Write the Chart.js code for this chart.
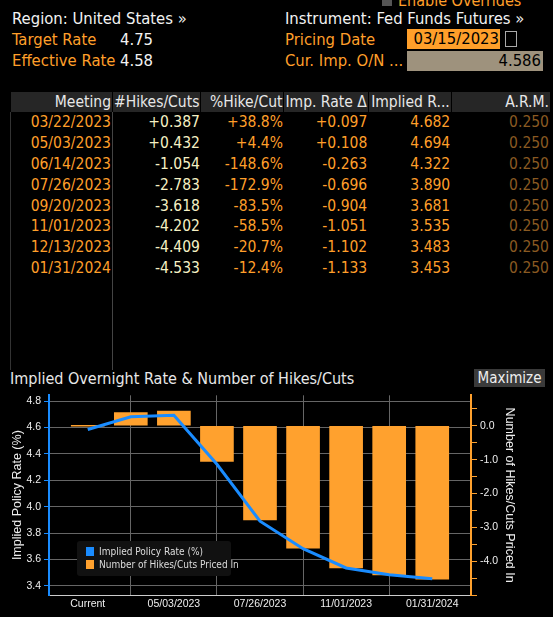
<!DOCTYPE html>
<html>
<head>
<meta charset="utf-8">
<script src="https://cdn.jsdelivr.net/npm/chart.js@4"></script>
<style>
  body { margin: 0; background: #000; width: 553px; height: 617px; overflow: hidden; position: relative;
         font-family: "DejaVu Sans Condensed", "Liberation Sans", sans-serif; color: #fff; }
  .abs { position: absolute; white-space: nowrap; }
  .w { color: #f2f2f2; }
  .o { color: #ff9f2a; }
  table { position: absolute; left: 10px; top: 92px; width: 540px; border-collapse: collapse; font-size: 15.5px;
          border-left: 1px solid #333; }
  th { background: #262626; color: #e8e8e8; font-weight: normal; text-align: right; height: 20px; padding: 0 1px;
       border-left: 1px solid #000; white-space: nowrap; overflow: hidden; }
  td { text-align: right; height: 20.8px; padding: 0 1px; color: #ff9f2a; }
  td.h { color: #f6f1c4; }
  td.a { color: #8a5a22; }
  td.m { border-right: 1px solid #444; }
</style>
</head>
<body>
<div class="abs" style="left:382px;top:-9px;font-size:16px;color:#ff9f2a"><span style="display:inline-block;width:10px;height:10px;background:#555;margin-right:6px"></span>Enable Overrides</div>
<div class="abs w" style="left:12px;top:9px;font-size:16.5px">Region: United States &raquo;</div>
<div class="abs w" style="left:285px;top:9px;font-size:16.5px">Instrument: Fed Funds Futures &raquo;</div>
<div class="abs o" style="left:12px;top:30px;font-size:16.5px">Target Rate</div>
<div class="abs w" style="left:120px;top:30px;font-size:16.5px">4.75</div>
<div class="abs o" style="left:12px;top:51px;font-size:16.5px">Effective Rate</div>
<div class="abs w" style="left:120px;top:51px;font-size:16.5px">4.58</div>
<div class="abs o" style="left:285px;top:30px;font-size:16.5px">Pricing Date</div>
<div class="abs o" style="left:285px;top:51px;font-size:16.5px">Cur. Imp. O/N ...</div>
<div class="abs" style="left:407px;top:29px;width:92px;height:20px;background:#ff9f2a;color:#000;font-size:16.5px;text-align:right;padding-right:1px">03/15/2023</div>
<div class="abs" style="left:505px;top:31px;width:10px;height:14px;border:1px solid #aaa"></div>
<div class="abs" style="left:407px;top:51px;width:134px;height:20px;background:#9e927d;color:#000;font-size:16.5px;text-align:right;padding-right:2px">4.586</div>

<table id="tbl">
  <tr><th style="width:99px">Meeting</th><th style="width:80px">#Hikes/Cuts</th><th style="width:80px">%Hike/Cut</th><th style="width:80px">Imp. Rate &Delta;</th><th style="width:80px">Implied R...</th><th>A.R.M.</th></tr>
</table>

<div class="abs" style="left:10px;top:369px;font-size:16px;color:#e8e8e8">Implied Overnight Rate &amp; Number of Hikes/Cuts</div>
<div class="abs" style="left:474px;top:369px;width:71px;height:18px;background:#3a3a3a;color:#eee;font-size:15px;text-align:center">Maximize</div>

<div class="abs" style="left:0;top:386px;width:553px;height:231px"><canvas id="c"></canvas></div>

<div class="abs" style="left:77px;top:541px;width:154px;height:35px;background:#111;border-radius:3px;font-size:10px;color:#ddd">
  <div style="position:absolute;left:9px;top:5px"><span style="display:inline-block;width:8px;height:9px;background:#1a8cff;margin-right:5px;vertical-align:-1px"></span>Implied Policy Rate (%)</div>
  <div style="position:absolute;left:9px;top:18px"><span style="display:inline-block;width:8px;height:9px;background:#ffa12e;margin-right:5px;vertical-align:-1px"></span>Number of Hikes/Cuts Priced In</div>
</div>

<script>
const meetings = ['03/22/2023', '05/03/2023', '06/14/2023', '07/26/2023', '09/20/2023', '11/01/2023', '12/13/2023', '01/31/2024'];
const hikesCuts = [0.387, 0.432, -1.054, -2.783, -3.618, -4.202, -4.409, -4.533];
const pctHikeCut = ['+38.8%', '+4.4%', '-148.6%', '-172.9%', '-83.5%', '-58.5%', '-20.7%', '-12.4%'];
const impRateDelta = [0.097, 0.108, -0.263, -0.696, -0.904, -1.051, -1.102, -1.133];
const impliedRate = [4.682, 4.694, 4.322, 3.890, 3.681, 3.535, 3.483, 3.453];
const arm = [0.250, 0.250, 0.250, 0.250, 0.250, 0.250, 0.250, 0.250];
const currentRate = 4.586;

const chartLabels = ['Current'].concat(meetings);
const lineValues = [currentRate].concat(impliedRate);
const barValues = [0].concat(hikesCuts);

function sign(v) { return (v > 0 ? '+' : '') + v.toFixed(3); }

let tbl = document.getElementById('tbl');
for (let i = 0; i < meetings.length; i++) {
    let tr = document.createElement('tr');
    tr.innerHTML = '<td class="m">' + meetings[i] + '</td><td class="h">' + sign(hikesCuts[i]) + '</td><td>' +
        pctHikeCut[i] + '</td><td>' + sign(impRateDelta[i]) + '</td><td>' + impliedRate[i].toFixed(3) +
        '</td><td class="a">' + arm[i].toFixed(3) + '</td>';
    tbl.appendChild(tr);
}
let filler = document.createElement('tr');
filler.innerHTML = '<td class="m" style="height:92px"></td><td colspan="5"></td>';
tbl.appendChild(filler);

const BLUE = '#1a8cff';
const ORANGE = '#ffa12e';

function pts(vals) {
    return vals.map(function (v, i) { return {x: i, y: v}; });
}

new Chart(document.getElementById('c'), {
    data: {
        datasets: [
            {type: 'line', data: pts(lineValues), yAxisID: 'y', borderColor: BLUE, borderWidth: 3,
             pointRadius: 0, tension: 0, order: 0},
            {type: 'bar', data: pts(barValues), yAxisID: 'y1', backgroundColor: ORANGE,
             barThickness: 33, minBarLength: 1, order: 1},
        ]
    },
    options: {
        responsive: true,
        maintainAspectRatio: false,
        animation: false,
        layout: {padding: {top: 2, left: 10, right: 36}},
        plugins: {legend: {display: false}, tooltip: {enabled: false}},
        scales: {
            x: {
                type: 'linear', min: -0.9, max: 8.9, offset: false,
                afterBuildTicks: function (a) {
                    a.ticks = [0, 2, 4, 6, 8].map(function (v) { return {value: v}; });
                },
                ticks: {color: '#eee', font: {size: 10.5}, maxRotation: 0, padding: 3,
                        callback: function (v) { return chartLabels[v]; }},
                grid: {color: '#666', drawTicks: false},
                border: {color: '#ccc', width: 1},
                afterFit: function (a) { a.height = 22; }
            },
            y: {
                position: 'left', min: 3.33, max: 4.845,
                afterBuildTicks: function (a) {
                    a.ticks = [];
                    for (let v = 34; v <= 48; v++) a.ticks.push({value: v / 10});
                },
                ticks: {color: '#eee', font: {size: 10.5},
                        callback: function (v) { return Math.round(v * 10) % 2 === 0 ? v.toFixed(1) : ''; }},
                grid: {color: function (c) { return Math.round(c.tick.value * 10) % 2 === 0 ? '#666' : 'transparent'; },
                       tickColor: BLUE, tickLength: 5},
                border: {color: BLUE, width: 2},
                title: {display: true, text: 'Implied Policy Rate (%)', color: '#eee', font: {size: 12.5}, padding: 0},
                afterFit: function (a) { a.width = 39; }
            },
            y1: {
                position: 'right', min: -5.0, max: 0.9,
                afterBuildTicks: function (a) {
                    a.ticks = [];
                    for (let v = -10; v <= 1; v++) a.ticks.push({value: v / 2});
                },
                ticks: {color: '#eee', font: {size: 10.5},
                        callback: function (v) { return Number.isInteger(v) && v > -5 ? v.toFixed(1) : ''; }},
                grid: {drawOnChartArea: false, tickColor: ORANGE, tickLength: 6},
                border: {color: ORANGE, width: 2},
                title: {display: true, text: 'Number of Hikes/Cuts Priced In', color: '#eee', font: {size: 12.5}, padding: 0},
                afterFit: function (a) { a.width = 46; }
            }
        }
    }
});
</script>
</body>
</html>
